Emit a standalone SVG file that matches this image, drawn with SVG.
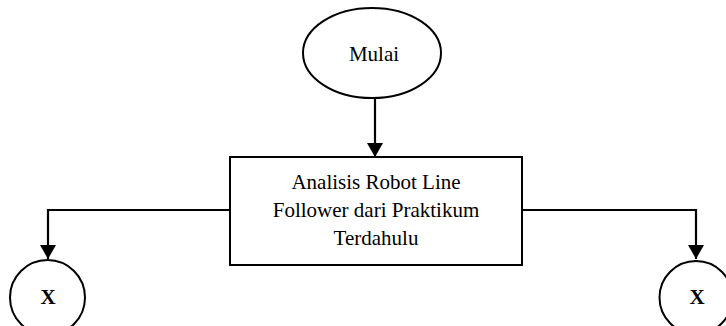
<svg xmlns="http://www.w3.org/2000/svg" width="726" height="326" viewBox="0 0 726 326">
  <style>
    .shape { fill: #ffffff; stroke: #000000; stroke-width: 2; }
    .label { font-family: "Liberation Serif", "Times New Roman", serif; font-size: 21px; fill: #000000; text-anchor: middle; }
    .conn { fill: none; stroke: #000000; stroke-width: 2.2; }
  </style>
  <defs>
    <marker id="arrow" viewBox="0 0 14 16" refX="14" refY="8" markerWidth="14" markerHeight="16" markerUnits="userSpaceOnUse" orient="auto">
      <path d="M0,0 L14,8 L0,16 Z" fill="#000000"/>
    </marker>
  </defs>
  <rect width="726" height="326" fill="#ffffff"/>

  <g id="connectors">
    <path class="conn" d="M375,98 L375,157" marker-end="url(#arrow)"/>
    <path class="conn" d="M230,210 L48,210 L48,259" marker-end="url(#arrow)"/>
    <path class="conn" d="M522,210 L696,210 L696,259" marker-end="url(#arrow)"/>
  </g>

  <g id="start">
    <ellipse class="shape" cx="372" cy="53" rx="69" ry="45"/>
    <text class="label" x="374" y="61">Mulai</text>
  </g>

  <g id="analysis">
    <rect class="shape" x="230" y="157" width="292" height="108"/>
    <text class="label" x="376" y="189">Analisis Robot Line</text>
    <text class="label" x="376" y="217">Follower dari Praktikum</text>
    <text class="label" x="376" y="245">Terdahulu</text>
  </g>

  <g id="connector-left">
    <circle class="shape" cx="47.5" cy="297.5" r="37.5"/>
    <text class="label" x="48" y="304" font-weight="bold" font-size="20">X</text>
  </g>

  <g id="connector-right">
    <circle class="shape" cx="696" cy="297.5" r="36.5"/>
    <text class="label" x="697" y="304" font-weight="bold" font-size="20">X</text>
  </g>
</svg>
